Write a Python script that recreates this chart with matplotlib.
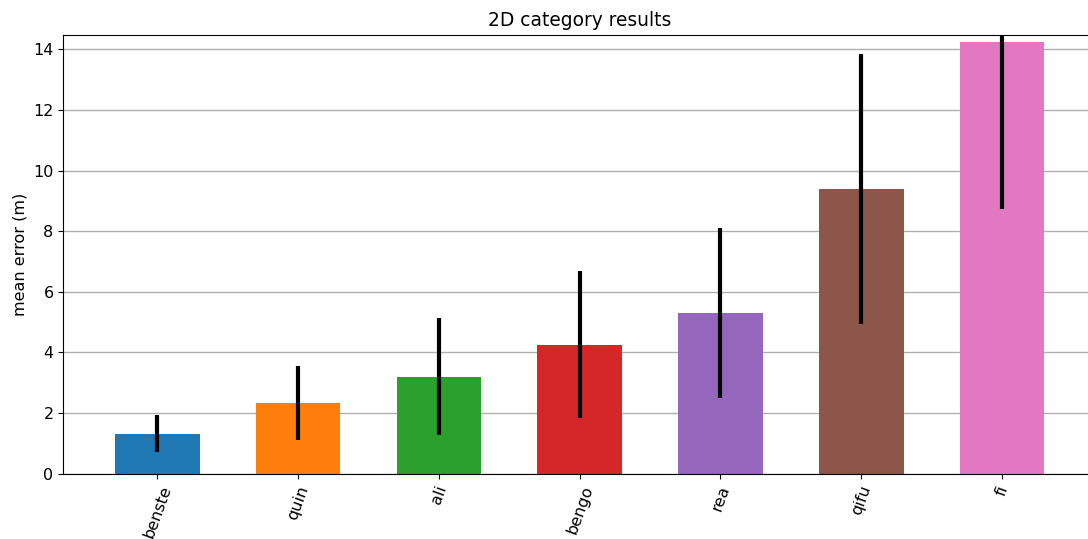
import matplotlib
matplotlib.use("Agg")
import matplotlib.pyplot as plt

categories = ["benste", "quin", "ali", "bengo", "rea", "qifu", "fi"]
mean_error = [1.31, 2.33, 3.20, 4.26, 5.30, 9.39, 14.24]
std_error = [0.61, 1.21, 1.93, 2.43, 2.79, 4.44, 5.51]

colors = plt.rcParams["axes.prop_cycle"].by_key()["color"][:len(categories)]

fig = plt.figure(figsize=(10.88, 5.39), dpi=100)
ax = fig.add_axes([63.3 / 1088, (539 - 473.7) / 539,
                   (1096.1 - 63.3) / 1088, (473.7 - 34.7) / 539])

x = list(range(len(categories)))
ax.bar(x, mean_error, width=0.6, color=colors, yerr=std_error,
       error_kw=dict(ecolor="black", elinewidth=3, capsize=0))

ax.set_axisbelow(True)
ax.yaxis.grid(True, color="#b0b0b0", linewidth=1)
ax.set_xticks(x)
ax.set_xticklabels(categories, rotation=70, fontsize=11.5)
ax.tick_params(axis="y", labelsize=11.5)
ax.set_xlim(-0.668, 6.668)
ax.set_ylim(0, 14.48)
ax.set_yticks(range(0, 15, 2))
ax.set_ylabel("mean error (m)", fontsize=11.5)
ax.set_title("2D category results", fontsize=13.4)

fig.savefig("out.png", dpi=100)
